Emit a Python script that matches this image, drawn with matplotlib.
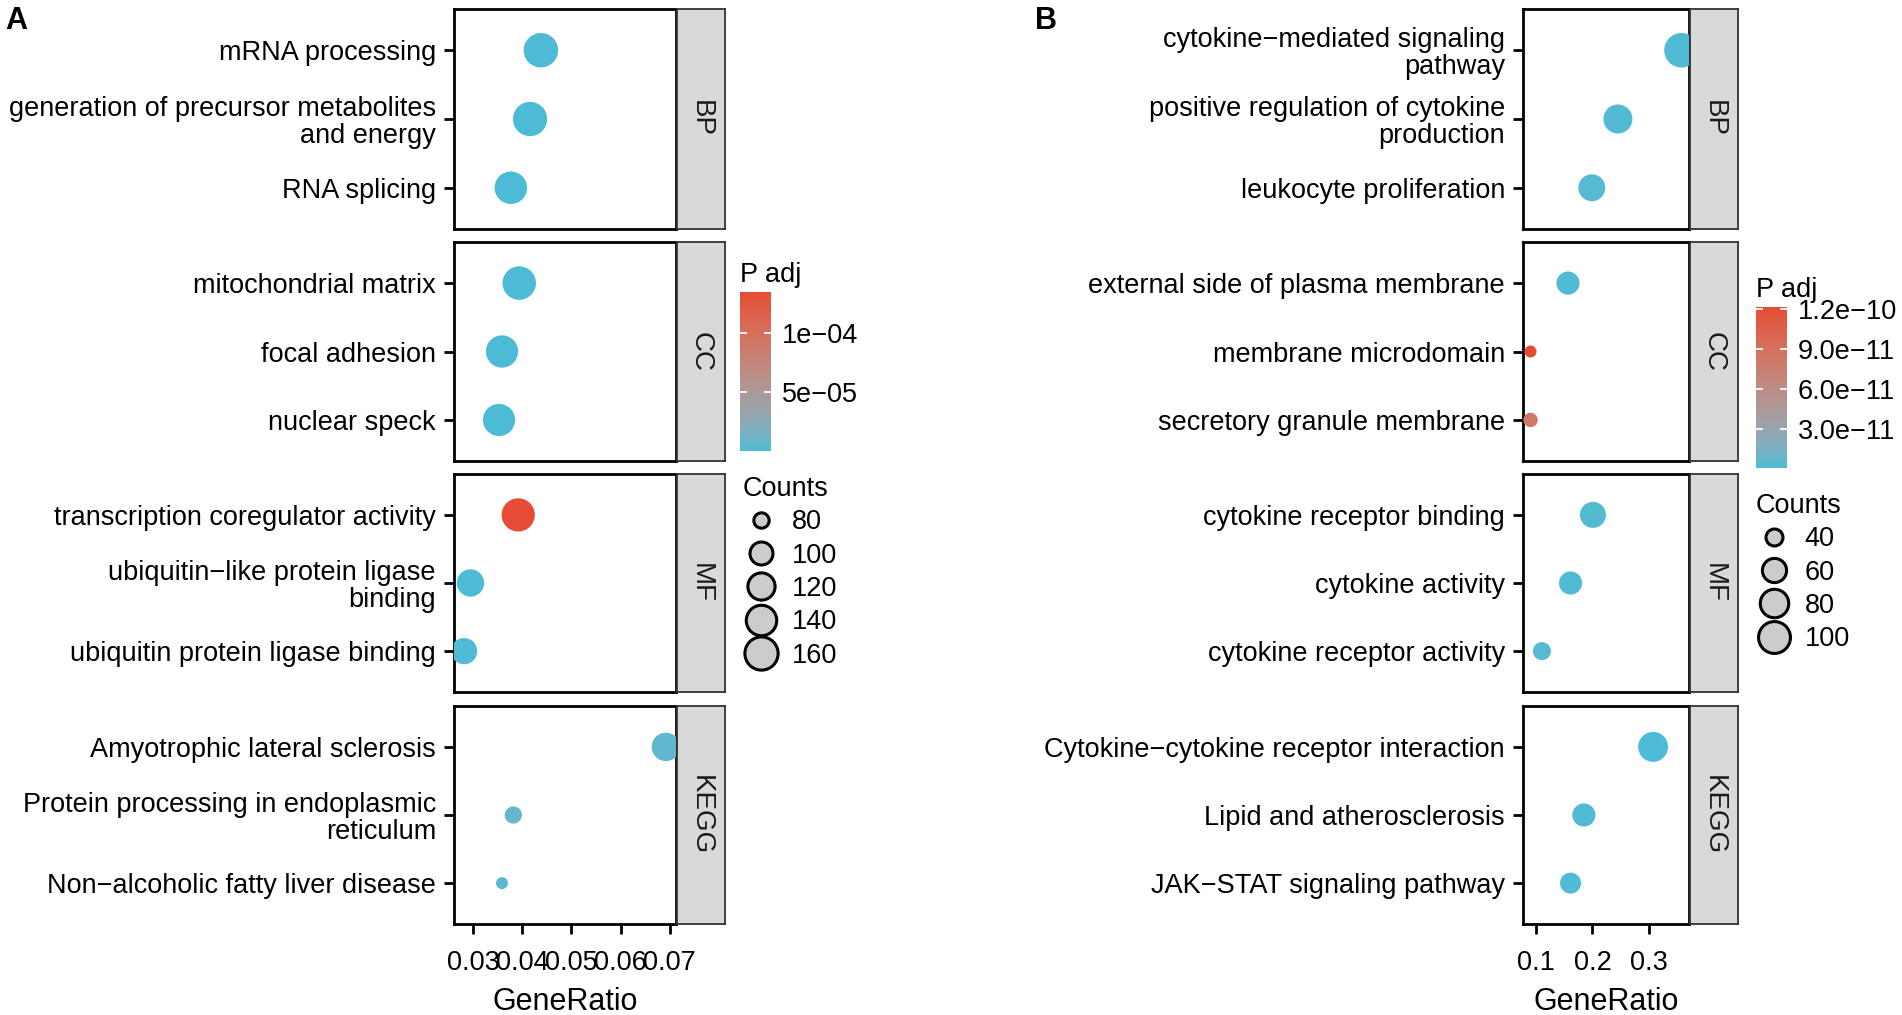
import numpy as np
import matplotlib
matplotlib.use("Agg")
import matplotlib.pyplot as plt
import matplotlib.colors as mcolors
from matplotlib.cm import ScalarMappable
from matplotlib.lines import Line2D
from matplotlib.ticker import MultipleLocator, FormatStrFormatter

plt.rcParams['font.family'] = ['Liberation Sans', 'DejaVu Sans']

M = '\u2212'  # minus sign as R draws it

# ---- panel A ----
a_group = ['BP', 'BP', 'BP', 'CC', 'CC', 'CC', 'MF', 'MF', 'MF', 'KEGG', 'KEGG', 'KEGG']
a_term = ['mRNA processing',
          'generation of precursor metabolites\nand energy',
          'RNA splicing',
          'mitochondrial matrix',
          'focal adhesion',
          'nuclear speck',
          'transcription coregulator activity',
          'ubiquitin' + M + 'like protein ligase\nbinding',
          'ubiquitin protein ligase binding',
          'Amyotrophic lateral sclerosis',
          'Protein processing in endoplasmic\nreticulum',
          'Non' + M + 'alcoholic fatty liver disease']
a_ratio = [0.0438, 0.0416, 0.0377, 0.0394, 0.0359, 0.0353,
           0.0392, 0.0295, 0.0282, 0.0692, 0.0382, 0.0359]
a_count = [170, 168, 154, 162, 153, 152, 160, 121, 115, 127, 83, 78]
a_padj = [2e-07, 3e-07, 1e-07, 4e-07, 2e-07, 1e-08,
          1.35e-04, 5e-07, 6e-07, 6e-06, 8e-06, 4e-06]
a_cbar_ticks = [5e-05, 1e-04]
a_size_breaks = [80, 100, 120, 140, 160]

# ---- panel B ----
b_group = ['BP', 'BP', 'BP', 'CC', 'CC', 'CC', 'MF', 'MF', 'MF', 'KEGG', 'KEGG', 'KEGG']
b_term = ['cytokine' + M + 'mediated signaling\npathway',
          'positive regulation of cytokine\nproduction',
          'leukocyte proliferation',
          'external side of plasma membrane',
          'membrane microdomain',
          'secretory granule membrane',
          'cytokine receptor binding',
          'cytokine activity',
          'cytokine receptor activity',
          'Cytokine' + M + 'cytokine receptor interaction',
          'Lipid and atherosclerosis',
          'JAK' + M + 'STAT signaling pathway']
b_ratio = [0.357, 0.245, 0.199, 0.157, 0.091, 0.091,
           0.201, 0.1615, 0.111, 0.307, 0.185, 0.1615]
b_count = [118, 83, 72, 56, 36, 37, 68, 56, 42, 88, 56, 49]
b_padj = [1e-12, 2e-12, 3e-12, 1.5e-12, 1.215e-10, 8e-11,
          2e-12, 1e-12, 3e-12, 5e-13, 2e-12, 1e-12]
b_cbar_ticks = [3e-11, 6e-11, 9e-11, 1.2e-10]
b_size_breaks = [40, 60, 80, 100]

facets = ['BP', 'CC', 'MF', 'KEGG']

W, H = 1902, 1015
D_MIN, D_MAX = 12, 34.5   # dot diameter range in pixels (ggplot size range)
FS = 19.5


def box(x0, y0, x1, y1):
    return [x0 / W, 1 - y1 / H, (x1 - x0) / W, (y1 - y0) / H]


# ggplot-like gradient, interpolated in Lab space
RGB2XYZ = np.array([[0.4124, 0.3576, 0.1805],
                    [0.2126, 0.7152, 0.0722],
                    [0.0193, 0.1192, 0.9505]])
WHITE = np.array([0.95047, 1.0, 1.08883])


def to_lab(hexcolor):
    rgb = np.array(mcolors.to_rgb(hexcolor))
    lin = np.where(rgb <= 0.04045, rgb / 12.92, ((rgb + 0.055) / 1.055) ** 2.4)
    xyz = RGB2XYZ @ lin / WHITE
    f = np.where(xyz > 0.008856, np.cbrt(xyz), 7.787 * xyz + 16 / 116)
    return np.array([116 * f[1] - 16, 500 * (f[0] - f[1]), 200 * (f[1] - f[2])])


def from_lab(lab):
    fy = (lab[:, 0] + 16) / 116
    f = np.stack([fy + lab[:, 1] / 500, fy, fy - lab[:, 2] / 200], axis=1)
    xyz = np.where(f ** 3 > 0.008856, f ** 3, (f - 16 / 116) / 7.787) * WHITE
    lin = np.clip(xyz @ np.linalg.inv(RGB2XYZ).T, 0, 1)
    rgb = np.where(lin <= 0.0031308, 12.92 * lin, 1.055 * lin ** (1 / 2.4) - 0.055)
    return np.clip(rgb, 0, 1)


t = np.linspace(0, 1, 256)[:, None]
lab = (1 - t) * to_lab('#4DBBD5') + t * to_lab('#E64B35')
cmap = mcolors.ListedColormap(from_lab(lab))


def diam_pt(c, cmin, cmax):
    d = D_MIN + (D_MAX - D_MIN) * np.sqrt((np.asarray(c, float) - cmin) / (cmax - cmin))
    return d * 72 / 100


rows = [(9, 229), (242, 461), (474, 692), (706, 924)]

fig = plt.figure(figsize=(W / 100, H / 100), dpi=100)
fig.patch.set_facecolor('white')


def draw_panel(x0, x1, xs1, group, term, ratio, count, padj, step, fmt,
               cbox, cticks, cfmt, leg_xy, breaks, letter, letter_x):
    norm = mcolors.Normalize(min(padj), max(padj))
    cmin, cmax = min(count), max(count)
    first = None
    for i, g in enumerate(facets):
        idx = [k for k in range(len(term)) if group[k] == g]
        top, bot = rows[i]
        ax = fig.add_axes(box(x0, top, x1, bot), sharex=first)
        if first is None:
            first = ax
        y = np.arange(len(idx))[::-1]
        ax.scatter([ratio[k] for k in idx], y,
                   s=diam_pt([count[k] for k in idx], cmin, cmax) ** 2,
                   c=[padj[k] for k in idx], cmap=cmap, norm=norm,
                   linewidths=0, zorder=3)
        ax.set_yticks(y)
        ax.set_yticklabels([term[k] for k in idx], fontsize=FS)
        for lbl in ax.get_yticklabels():
            lbl.set_linespacing(1.05)
        ax.set_ylim(-0.6, len(idx) - 0.4)
        ax.margins(x=0.05)
        for sp in ax.spines.values():
            sp.set_linewidth(2.0)
        ax.tick_params(axis='y', length=7, width=2.0, pad=6, labelcolor='black')
        if i < len(facets) - 1:
            ax.tick_params(axis='x', bottom=False, labelbottom=False)
        else:
            ax.xaxis.set_major_locator(MultipleLocator(step))
            ax.xaxis.set_major_formatter(FormatStrFormatter(fmt))
            ax.tick_params(axis='x', length=7, width=2.0, pad=12, labelsize=FS)
            ax.set_xlabel('GeneRatio', fontsize=22, labelpad=8)

        # facet strip on the right
        sx = fig.add_axes(box(x1 + 1, top, xs1, bot))
        sx.set_facecolor('#D9D9D9')
        sx.set_xticks([])
        sx.set_yticks([])
        for sp in sx.spines.values():
            sp.set_linewidth(1.3)
            sp.set_color('#333333')
        sx.text(0.5, 0.5, g, rotation=-90, ha='center', va='center',
                fontsize=20, color='#1A1A1A', transform=sx.transAxes)

    # colour bar
    cax = fig.add_axes(box(*cbox))
    cb = fig.colorbar(ScalarMappable(norm=norm, cmap=cmap), cax=cax)
    cb.set_ticks(cticks)
    cb.set_ticklabels([(cfmt % v).replace('-', M) for v in cticks])
    cb.outline.set_visible(False)
    cax.tick_params(direction='in', length=5, width=1.3, color='white',
                    left=True, right=True, labelsize=FS, pad=8)
    cax.set_title('P adj', loc='left', fontsize=FS, pad=7)

    # size legend
    handles = [Line2D([], [], ls='', marker='o', markersize=diam_pt(b, cmin, cmax),
                      mfc='#CCCCCC', mec='black', mew=2.2) for b in breaks]
    fig.legend(handles, [str(b) for b in breaks], title='Counts',
               loc='upper left', bbox_to_anchor=(leg_xy[0] / W, 1 - leg_xy[1] / H),
               frameon=False, fontsize=FS, title_fontsize=FS, alignment='left',
               handlelength=1.3, handletextpad=0.5, labelspacing=0.27,
               borderpad=0, borderaxespad=0)

    fig.text(letter_x / W, 1 - 6 / H, letter, fontsize=22, fontweight='bold',
             ha='left', va='top')


draw_panel(454, 676, 725, a_group, a_term, a_ratio, a_count, a_padj, 0.01, '%.2f',
           (740, 292, 771, 451), a_cbar_ticks, '%.0e', (743, 476), a_size_breaks,
           'A', 5)
draw_panel(1523, 1689, 1738, b_group, b_term, b_ratio, b_count, b_padj, 0.1, '%.1f',
           (1756, 307, 1787, 468), b_cbar_ticks, '%.1e', (1756, 493), b_size_breaks,
           'B', 1035)

fig.savefig('out.png', dpi=100)
